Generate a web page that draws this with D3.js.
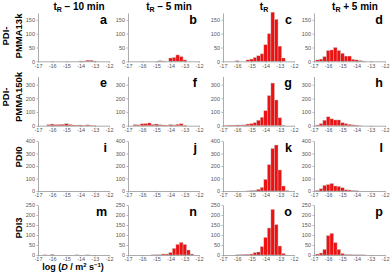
<!DOCTYPE html>
<html>
<head>
<meta charset="utf-8">
<script src="https://cdn.jsdelivr.net/npm/d3@7"></script>
<style>
  body { margin: 0; background: #fff; }
  svg { display: block; font-family: Arial, "Liberation Sans", sans-serif; }
</style>
</head>
<body>
<svg id="chart" width="392" height="274"></svg>
<script>
// bin centres of the log(D / m2 s-1) histograms (bin width 0.25)
const binCenters = [-16.75, -16.5, -16.25, -16.0, -15.75, -15.5, -15.25, -15.0, -14.75, -14.5,
  -14.25, -14.0, -13.75, -13.5, -13.25, -13.0, -12.75, -12.5, -12.25];

const timeLabels = [" \u2013 10 min", " \u2013 5 min", "", " + 5 min"];
const sampleLabels = [["PDI-", "PMMA13k"], ["PDI-", "PMMA150k"], ["PDI0"], ["PDI3"]];
const panelLetters = ["a", "b", "c", "d", "e", "f", "g", "h", "i", "j", "k", "l", "m", "n", "o", "p"];

const xTicks = [-17, -16, -15, -14, -13, -12];
const yMaxes = [175, 360, 400, 250];
const yTicks = [[0, 50, 100, 150], [0, 100, 200, 300], [0, 100, 200, 300, 400], [0, 50, 100, 150, 200, 250]];

// counts per bin, one array per panel
const countsA = [0, 0, 0, 0, 0, 0, 0, 0, 0, 0, 0, 1, 1, 4, 4, 1, 0, 0, 0];
const countsB = [0, 0, 0, 0, 0, 0, 0, 0, 2, 1, 0, 12, 14, 23, 17, 5, 0, 0, 0];
const countsC = [0, 0, 0, 2, 0, 0, 5, 8, 14, 20, 27, 60, 100, 178, 152, 55, 12, 0, 0];
const countsD = [5, 8, 17, 39, 41, 50, 39, 29, 19, 19, 7, 5, 3, 1, 0, 0, 0, 0, 0];
const countsE = [0, 0, 8, 12, 8, 9, 10, 14, 9, 5, 4, 5, 3, 6, 3, 1, 0, 0, 0];
const countsF = [0, 8, 6, 14, 15, 20, 9, 12, 7, 5, 4, 8, 5, 10, 14, 3, 0, 0, 0];
const countsG = [3, 4, 4, 5, 5, 6, 12, 15, 22, 40, 62, 110, 220, 312, 188, 58, 3, 0, 0];
const countsH = [5, 15, 40, 65, 50, 42, 42, 22, 15, 10, 6, 3, 1, 0, 0, 0, 0, 0, 0];
const countsI = [0, 0, 0, 0, 0, 0, 0, 0, 0, 0, 0, 0, 0, 0, 0, 0, 0, 0, 0];
const countsJ = [0, 0, 0, 0, 0, 0, 0, 0, 0, 0, 0, 0, 0, 0, 0, 0, 0, 0, 0];
const countsK = [0, 0, 0, 0, 0, 0, 1, 3, 5, 13, 29, 93, 211, 340, 368, 168, 40, 3, 0];
const countsL = [5, 18, 45, 52, 60, 40, 36, 26, 10, 8, 4, 2, 0, 0, 0, 0, 0, 0, 0];
const countsM = [0, 1, 0, 3, 0, 0, 0, 0, 0, 0, 1, 0, 0, 1, 0, 0, 0, 0, 0];
const countsN = [0, 0, 0, 0, 0, 0, 1, 1, 2, 5, 5, 12, 33, 53, 63, 53, 25, 5, 0];
const countsO = [0, 0, 0, 1, 2, 3, 4, 5, 12, 15, 42, 88, 135, 228, 152, 45, 8, 0, 0];
const countsP = [5, 10, 28, 97, 108, 62, 28, 8, 3, 2, 1, 1, 1, 1, 0, 0, 0, 0, 0];

const panelCounts = [countsA, countsB, countsC, countsD, countsE, countsF, countsG, countsH,
  countsI, countsJ, countsK, countsL, countsM, countsN, countsO, countsP];

// layout
const binWidth = 0.25;
const colX = [38, 128, 223, 314];
const colW = 71;
const rowZero = [61.3, 125.7, 191, 255];
const rowTop = [13, 76.5, 141, 205];

const svg = d3.select('#chart');

panelCounts.forEach((counts, i) => {
  const r = Math.floor(i / 4), c = i % 4;
  const x = d3.scaleLinear().domain([-17, -12]).range([colX[c], colX[c] + colW]);
  const y = d3.scaleLinear().domain([0, yMaxes[r]]).range([rowZero[r], rowTop[r]]);
  const g = svg.append('g');

  g.selectAll('rect')
    .data(binCenters.map((b, k) => ({ b: b, v: counts[k] })).filter(d => d.v > 0))
    .enter()
    .append('rect')
    .attr('x', d => x(d.b - binWidth / 2))
    .attr('width', d => x(d.b + binWidth / 2) - x(d.b - binWidth / 2))
    .attr('y', d => y(d.v))
    .attr('height', d => y(0) - y(d.v))
    .attr('fill', '#ee1111')
    .attr('stroke', '#c8c8c8')
    .attr('stroke-width', 0.4);

  const xAxis = g.append('g')
    .attr('transform', 'translate(0,' + y(0) + ')')
    .call(d3.axisBottom(x).tickValues(xTicks).tickSize(1.5).tickSizeOuter(0).tickPadding(1)
      .tickFormat(d => String(d)));

  const yAxis = g.append('g')
    .attr('transform', 'translate(' + colX[c] + ',0)')
    .call(d3.axisLeft(y).tickValues(yTicks[r]).tickSize(1.5).tickSizeOuter(0).tickPadding(1.5));

  [xAxis, yAxis].forEach(a => {
    a.select('.domain').attr('stroke', '#888').attr('stroke-width', 0.7);
    a.selectAll('.tick line').attr('stroke', '#888').attr('stroke-width', 0.6);
    a.selectAll('.tick text').attr('fill', '#555').style('font-size', '5.5px');
  });

  g.append('text')
    .attr('x', colX[c] + 69)
    .attr('y', rowTop[r] + 10.5)
    .attr('text-anchor', 'end')
    .style('font-size', '12.5px')
    .style('font-weight', 'bold')
    .text(panelLetters[i]);
});

// column titles
timeLabels.forEach((lab, c) => {
  const t = svg.append('text')
    .attr('x', colX[c] + 41)
    .attr('y', 10)
    .attr('text-anchor', 'middle')
    .style('font-size', '10px')
    .style('font-weight', 'bold');
  t.append('tspan').text('t');
  t.append('tspan').attr('dy', 2).style('font-size', '7px').text('R');
  t.append('tspan').attr('dy', -2).text(lab);
});

// row labels
const rowLabelY = [36, 97, 157, 228];
sampleLabels.forEach((lines, r) => {
  const t = svg.append('text')
    .attr('transform', 'translate(0,' + rowLabelY[r] + ') rotate(-90)')
    .attr('text-anchor', 'middle')
    .style('font-size', '9.5px')
    .style('font-weight', 'bold');
  lines.forEach((line, k) => {
    t.append('tspan')
      .attr('x', 0)
      .attr('y', lines.length === 2 ? 9 + k * 12.5 : 21.5)
      .text(line);
  });
});

// x axis title
const xt = svg.append('text')
  .attr('x', 73)
  .attr('y', 270)
  .attr('text-anchor', 'middle')
  .style('font-size', '9px')
  .style('font-weight', 'bold');
xt.append('tspan').text('log (');
xt.append('tspan').style('font-style', 'italic').text('D');
xt.append('tspan').text(' / m');
xt.append('tspan').attr('dy', -3).style('font-size', '6px').text('2');
xt.append('tspan').attr('dy', 3).text(' s');
xt.append('tspan').attr('dy', -3).style('font-size', '6px').text('\u22121');
xt.append('tspan').attr('dy', 3).text(')');
</script>
</body>
</html>
